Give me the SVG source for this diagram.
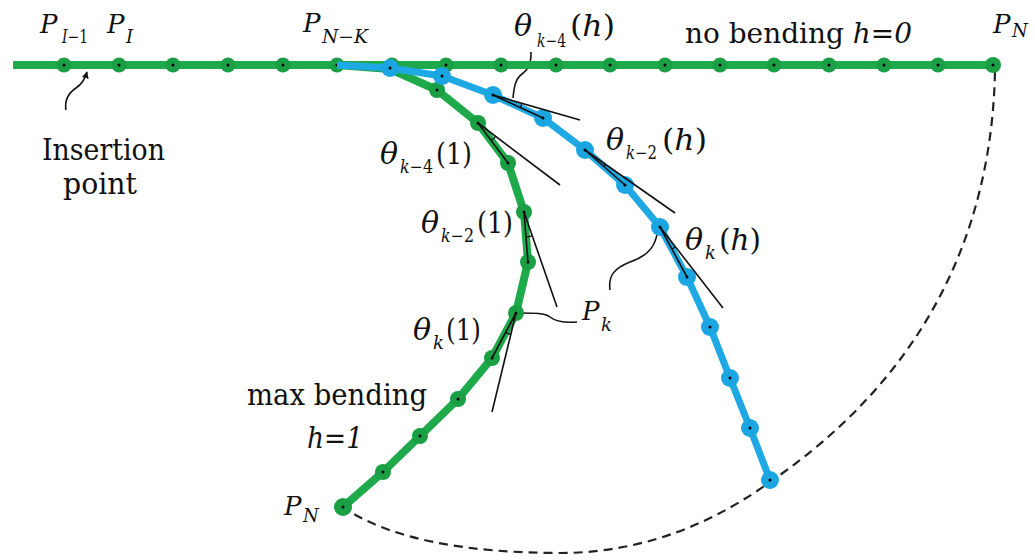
<svg xmlns="http://www.w3.org/2000/svg" width="1035" height="560" viewBox="0 0 1035 560">
<defs>
<style>
.g{fill:none;stroke:#1ea94b;stroke-width:8;stroke-linejoin:round;stroke-linecap:butt}
.b{fill:none;stroke:#1fa9e4;stroke-width:7;stroke-linejoin:round}
.gp{fill:#1a9f45}
.bp{fill:#1ba6e2}
.d{fill:#000}
.t{fill:none;stroke:#111;stroke-width:1.6}
.a{fill:none;stroke:#111;stroke-width:1.2}
.dash{fill:none;stroke:#222;stroke-width:2.2;stroke-dasharray:9 6}
.lead{fill:none;stroke:#111;stroke-width:1.6}
.m{font-style:italic}
.big{font-size:30px}
.mt{font-size:26px}
.sub{font-size:18px}
</style>
<marker id="arr" viewBox="0 0 10 10" refX="9" refY="5" markerWidth="7" markerHeight="7" orient="auto" markerUnits="userSpaceOnUse">
<path d="M0,0 L10,5 L0,10 z" fill="#111"/>
</marker>
</defs>

<g id="connectors">
<path class="dash" d="M995,72 C990,300 860,420 770,482 C720,518 650,553 560,553 C470,553 390,540 343,507"/>
<path class="lead" d="M66,110 C64,98 70,92 76,88 C82,84 85,79 87,72" marker-end="url(#arr)"/>
<path class="lead" d="M531,52 C531,62 530,68 522,74 C515,79 514,88 513,98"/>
<path class="lead" d="M577,322 C565,323 555,321 550,317 C545,313 535,313 518,313"/>
<path class="lead" d="M610,290 C608,275 615,268 630,262 C650,255 656,245 658,229"/>
</g>

<g id="no-bending">
<line class="g" x1="13" y1="65" x2="993" y2="65"/>
<g class="gp">
<circle cx="64" cy="65" r="7.5"/><circle cx="119" cy="65" r="7.5"/><circle cx="173" cy="65" r="7.5"/><circle cx="228" cy="65" r="7.5"/><circle cx="283" cy="65" r="7.5"/><circle cx="337" cy="65" r="7.5"/><circle cx="392" cy="65" r="7.5"/><circle cx="446" cy="65" r="7.5"/><circle cx="501" cy="65" r="7.5"/><circle cx="556" cy="65" r="7.5"/><circle cx="610" cy="65" r="7.5"/><circle cx="665" cy="65" r="7.5"/><circle cx="720" cy="65" r="7.5"/><circle cx="774" cy="65" r="7.5"/><circle cx="829" cy="65" r="7.5"/><circle cx="884" cy="65" r="7.5"/><circle cx="938" cy="65" r="7.5"/><circle cx="993" cy="65" r="8"/>
</g>
<g class="d">
<circle cx="64" cy="65" r="1.5"/><circle cx="119" cy="65" r="1.5"/><circle cx="173" cy="65" r="1.5"/><circle cx="228" cy="65" r="1.5"/><circle cx="283" cy="65" r="1.5"/><circle cx="337" cy="65" r="1.5"/><circle cx="392" cy="65" r="1.5"/><circle cx="446" cy="65" r="1.5"/><circle cx="501" cy="65" r="1.5"/><circle cx="556" cy="65" r="1.5"/><circle cx="610" cy="65" r="1.5"/><circle cx="665" cy="65" r="1.5"/><circle cx="720" cy="65" r="1.5"/><circle cx="774" cy="65" r="1.5"/><circle cx="829" cy="65" r="1.5"/><circle cx="884" cy="65" r="1.5"/><circle cx="938" cy="65" r="1.5"/><circle cx="993" cy="65" r="1.5"/>
</g>
</g>

<g id="max-bending">
<polyline class="g" points="337,65 390,69 437,90 478,123 508,163 524,212 528,262 516,313 492,358 458,399 420,436 383,472 343,507"/>
<g class="gp">
<circle cx="437" cy="90" r="8"/><circle cx="478" cy="123" r="8"/><circle cx="508" cy="163" r="8"/><circle cx="524" cy="212" r="8"/><circle cx="528" cy="262" r="8"/><circle cx="516" cy="313" r="8"/><circle cx="492" cy="358" r="8"/><circle cx="458" cy="399" r="8"/><circle cx="420" cy="436" r="8"/><circle cx="383" cy="472" r="8"/><circle cx="343" cy="507" r="9"/>
</g>
</g>

<g id="partial-bending">
<polyline class="b" points="337,65 390,68 442,76 493,95 543,118 585,150 625,185 660,227 687,277 710,327 730,378 750,428 770,480"/>
<g class="bp">
<circle cx="390" cy="68" r="9"/><circle cx="442" cy="76" r="9"/><circle cx="493" cy="95" r="9"/><circle cx="543" cy="118" r="9"/><circle cx="585" cy="150" r="9"/><circle cx="625" cy="185" r="9"/><circle cx="660" cy="227" r="9"/><circle cx="687" cy="277" r="9"/><circle cx="710" cy="327" r="9"/><circle cx="730" cy="378" r="9"/><circle cx="750" cy="428" r="9"/><circle cx="770" cy="480" r="9"/>
</g>
</g>

<g id="tangents">
<line class="t" x1="493" y1="95" x2="543" y2="118"/><line class="t" x1="493" y1="95" x2="580" y2="120"/>
<line class="t" x1="585" y1="150" x2="625" y2="185"/><line class="t" x1="585" y1="150" x2="675" y2="213"/>
<line class="t" x1="660" y1="227" x2="687" y2="277"/><line class="t" x1="660" y1="227" x2="723" y2="308"/>
<line class="t" x1="478" y1="123" x2="508" y2="163"/><line class="t" x1="478" y1="123" x2="560" y2="185"/>
<line class="t" x1="524" y1="212" x2="528" y2="262"/><line class="t" x1="524" y1="212" x2="557" y2="307"/>
<line class="t" x1="516" y1="313" x2="492" y2="358"/><line class="t" x1="516" y1="313" x2="492" y2="412"/>
<path class="a" d="M491.2,140.6 A22,22 0 0 0 495.6,136.3"/>
<path class="a" d="M526,237 A25,25 0 0 0 532.2,235.6"/>
<path class="a" d="M505.7,332.4 A22,22 0 0 0 510.8,334.4"/>
<path class="a" d="M520.3,107.5 A30,30 0 0 0 521.8,103.3"/>
<path class="a" d="M603.8,166.5 A25,25 0 0 0 605.5,164.3"/>
<path class="a" d="M671.9,249 A25,25 0 0 0 675.4,246.7"/>
</g>

<g id="dots" class="d">
<circle cx="390" cy="68" r="1.5"/><circle cx="442" cy="76" r="1.5"/><circle cx="493" cy="95" r="1.5"/><circle cx="543" cy="118" r="1.5"/><circle cx="585" cy="150" r="1.5"/><circle cx="625" cy="185" r="1.5"/><circle cx="660" cy="227" r="1.5"/><circle cx="687" cy="277" r="1.5"/><circle cx="710" cy="327" r="1.5"/><circle cx="730" cy="378" r="1.5"/><circle cx="750" cy="428" r="1.5"/><circle cx="770" cy="480" r="1.5"/>
<circle cx="437" cy="90" r="1.5"/><circle cx="478" cy="123" r="1.5"/><circle cx="508" cy="163" r="1.5"/><circle cx="524" cy="212" r="1.5"/><circle cx="528" cy="262" r="1.5"/><circle cx="516" cy="313" r="1.5"/><circle cx="492" cy="358" r="1.5"/><circle cx="458" cy="399" r="1.5"/><circle cx="420" cy="436" r="1.5"/><circle cx="383" cy="472" r="1.5"/><circle cx="343" cy="507" r="1.5"/>
</g>

<g id="labels" font-family="DejaVu Serif, serif" fill="#111">
<g id="lbl-PI-1"><text class="m mt" x="40" y="33">P</text><text class="sub" x="62" y="43" textLength="26" lengthAdjust="spacingAndGlyphs"><tspan class="m">I</tspan>−1</text></g>
<g id="lbl-PI"><text class="m mt" x="107" y="33">P</text><text class="m sub" x="126" y="43">I</text></g>
<g id="lbl-PNK"><text class="m mt" x="303" y="32">P</text><text class="sub" x="322" y="43" textLength="46" lengthAdjust="spacingAndGlyphs"><tspan class="m">N</tspan>−<tspan class="m">K</tspan></text></g>
<g id="lbl-th-k4h"><text class="m big" x="514" y="36">θ</text><text class="sub" x="537" y="47" textLength="29" lengthAdjust="spacingAndGlyphs"><tspan class="m">k</tspan>−4</text><text class="big" x="570" y="36" textLength="45" lengthAdjust="spacingAndGlyphs">(<tspan class="m">h</tspan>)</text></g>
<g id="lbl-nobend"><text x="685" y="43" font-size="28" textLength="227" lengthAdjust="spacingAndGlyphs">no bending <tspan class="m">h</tspan>=<tspan class="m">0</tspan></text></g>
<g id="lbl-PN-top"><text class="m mt" x="993" y="33">P</text><text class="m sub" x="1012" y="37">N</text></g>
<g id="lbl-th-k2h"><text class="m big" x="606" y="150">θ</text><text class="sub" x="626" y="159" textLength="31" lengthAdjust="spacingAndGlyphs"><tspan class="m">k</tspan>−2</text><text class="big" x="662" y="150" textLength="45" lengthAdjust="spacingAndGlyphs">(<tspan class="m">h</tspan>)</text></g>
<g id="lbl-th-kh"><text class="m big" x="685" y="250">θ</text><text class="m sub" x="705" y="259">k</text><text class="big" x="719" y="250" textLength="42" lengthAdjust="spacingAndGlyphs">(<tspan class="m">h</tspan>)</text></g>
<g id="lbl-th-k41"><text class="m big" x="380" y="164">θ</text><text class="sub" x="400" y="173" textLength="33" lengthAdjust="spacingAndGlyphs"><tspan class="m">k</tspan>−4</text><text class="big" x="436" y="164" textLength="36" lengthAdjust="spacingAndGlyphs">(1)</text></g>
<g id="lbl-th-k21"><text class="m big" x="421" y="233">θ</text><text class="sub" x="441" y="242" textLength="33" lengthAdjust="spacingAndGlyphs"><tspan class="m">k</tspan>−2</text><text class="big" x="477" y="233" textLength="36" lengthAdjust="spacingAndGlyphs">(1)</text></g>
<g id="lbl-th-k1"><text class="m big" x="413" y="340">θ</text><text class="m sub" x="433" y="349">k</text><text class="big" x="446" y="340" textLength="35" lengthAdjust="spacingAndGlyphs">(1)</text></g>
<g id="lbl-Pk"><text class="m mt" x="582" y="320">P</text><text class="m sub" x="601" y="331">k</text></g>
<g id="lbl-maxbend"><text x="247" y="405" font-size="30" textLength="180" lengthAdjust="spacingAndGlyphs">max bending</text><text class="m" x="307" y="448" font-size="30" textLength="56" lengthAdjust="spacingAndGlyphs">h=1</text></g>
<g id="lbl-PN-bot"><text class="m mt" x="284" y="515">P</text><text class="m sub" x="303" y="522">N</text></g>
<g id="lbl-insert"><text class="big" x="42" y="160" textLength="123" lengthAdjust="spacingAndGlyphs">Insertion</text><text class="big" x="63" y="194" textLength="74" lengthAdjust="spacingAndGlyphs">point</text></g>
</g>
</svg>
